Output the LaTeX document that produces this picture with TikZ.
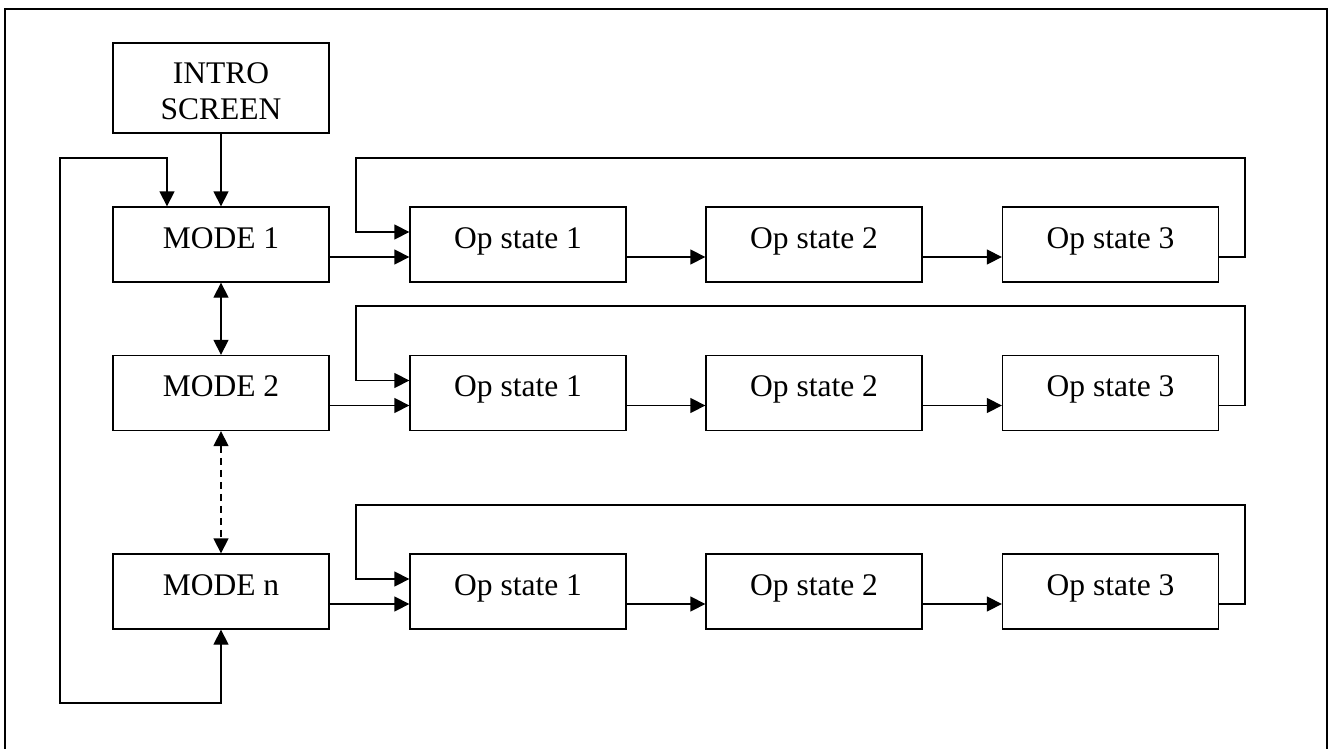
\documentclass[tikz,border=0pt]{standalone}
\usepackage{fontspec}
\setmainfont{Liberation Serif}
\usetikzlibrary{arrows.meta}
\begin{document}
\begin{tikzpicture}[x=1pt,y=-1pt,
  every path/.style={line width=1.3pt},
  box/.style={draw, line width=1.3pt, minimum width=216pt, minimum height=75pt,
    inner xsep=2pt, inner ysep=0pt, text height=41pt, text depth=34pt,
    font=\fontsize{31.5}{36}\selectfont},
  introbox/.style={draw, line width=1.3pt, minimum width=216pt, minimum height=90pt,
    inner sep=0pt, align=center, font=\fontsize{31.5}{36}\selectfont},
  arr/.style={-{Triangle[length=15pt,width=15pt]}},
  arrboth/.style={{Triangle[length=15pt,width=15pt]}-{Triangle[length=15pt,width=15pt]}},
  dashline/.style={dash pattern=on 7pt off 5pt}
]
\useasboundingbox (0,0) rectangle (1328,749);
% outer frame
\draw (5,760) -- (5,9) -- (1327,9) -- (1327,760);

% nodes
\node[introbox] (intro) at (221,88) {\rule{0pt}{28pt}INTRO\\SCREEN};
\node[box] (m1) at (221,244.5) {MODE 1};
\node[box] (m2) at (221,393) {MODE 2};
\node[box] (mn) at (221,591.5) {MODE n};

\foreach \r/\y in {1/244.5, 2/393, n/591.5}{
  \node[box] (o\r1) at (518,\y) {Op state 1};
  \node[box] (o\r2) at (814,\y) {Op state 2};
  \node[box] (o\r3) at (1110.5,\y) {Op state 3};
}

% loop coordinates
\coordinate (la) at (60,158);
\coordinate (lb) at (60,703);
\coordinate (r1a) at (1245,158);
\coordinate (r1b) at (356,158);
\coordinate (r2a) at (1245,306);
\coordinate (r2b) at (356,306);
\coordinate (rna) at (1245,505);
\coordinate (rnb) at (356,505);

% mode column
\draw[arr] (intro) -- (m1);
\draw[arrboth] ([xshift=-54pt]m1.north) |- (la) -- (lb) -| (mn.south);
\draw[arrboth] (m1) -- (m2);
\draw[arrboth, dashline] (m2) -- (mn);

% rows
\foreach \r in {1,2,n}{
  \draw[arr] ([yshift=-12.5pt]m\r.east) -- ([yshift=-12.5pt]o\r1.west);
  \draw[arr] ([yshift=-12.5pt]o\r1.east) -- ([yshift=-12.5pt]o\r2.west);
  \draw[arr] ([yshift=-12.5pt]o\r2.east) -- ([yshift=-12.5pt]o\r3.west);
  \draw[arr] ([yshift=-12.5pt]o\r3.east) -| (r\r a) -- (r\r b) |- ([yshift=12.5pt]o\r1.west);
}
\end{tikzpicture}
\end{document}
